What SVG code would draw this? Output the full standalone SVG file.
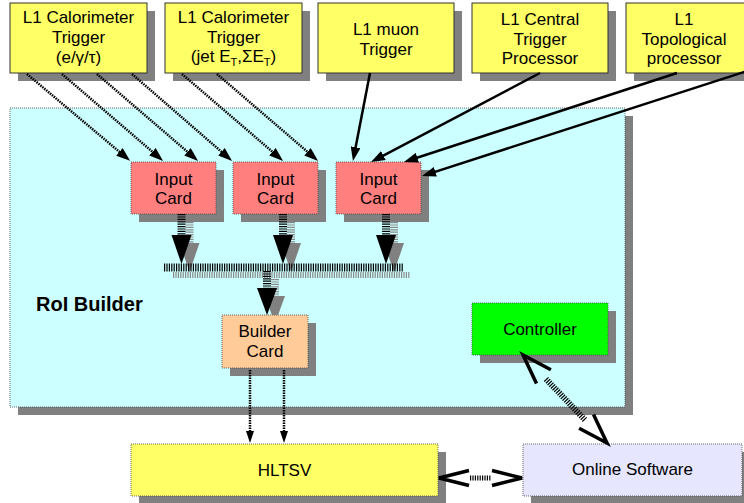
<svg xmlns="http://www.w3.org/2000/svg" width="744" height="503" viewBox="0 0 744 503">
<style>
.sh{fill:#808080}
.tb{fill:#ffff66;stroke:#333;stroke-width:1}
.bx{stroke:#444;stroke-width:0.8;stroke-dasharray:1 1}
.t{font-family:"Liberation Sans",Arial,sans-serif;font-size:17px;text-anchor:middle;fill:#000}
.dot{stroke:#000;stroke-width:2.5;stroke-dasharray:1.5 1;fill:none}
.sol{stroke:#000;stroke-width:2.5;fill:none}
.hat{stroke:#000;stroke-dasharray:1.2 1.2;fill:none}
.hats{stroke:#8a8a8a;stroke-dasharray:1.2 1.2;fill:none}
.v{stroke:#000;stroke-width:3.5;fill:none}
</style>
<defs>
<marker id="ah" markerUnits="userSpaceOnUse" markerWidth="14" markerHeight="10" refX="6" refY="5" orient="auto"><path d="M0,0 L14,5 L0,10 z" fill="#000"/></marker>
<marker id="as" markerUnits="userSpaceOnUse" markerWidth="12" markerHeight="8" refX="4" refY="4" orient="auto"><path d="M0,0 L12,4 L0,8 z" fill="#000"/></marker>
</defs>

<g id="roi-builder">
<rect class="sh" x="18" y="116" width="615" height="299"/>
<rect x="10" y="108" width="615" height="299" fill="#ccffff" class="bx"/>
<text x="36" y="311" font-family="Liberation Sans,Arial,sans-serif" font-size="20" font-weight="bold" fill="#000">RoI Builder</text>
</g>

<g id="l1calo-em">
<rect class="sh" x="18" y="11" width="137" height="70"/>
<rect class="tb" x="10" y="3" width="137" height="70"/>
<text class="t" x="78.5" y="23">L1 Calorimeter</text>
<text class="t" x="78.5" y="43">Trigger</text>
<text class="t" x="78.5" y="63">(e/γ/τ)</text>
</g>
<g id="l1calo-jet">
<rect class="sh" x="173" y="11" width="137" height="70"/>
<rect class="tb" x="165" y="3" width="137" height="70"/>
<text class="t" x="233.5" y="23">L1 Calorimeter</text>
<text class="t" x="233.5" y="43">Trigger</text>
<text class="t" x="233.5" y="62">(jet E<tspan font-size="11" dy="4">T</tspan><tspan dy="-4">,ΣE</tspan><tspan font-size="11" dy="4">T</tspan><tspan dy="-4">)</tspan></text>
</g>
<g id="l1muon">
<rect class="sh" x="326" y="11" width="136" height="70"/>
<rect class="tb" x="318" y="3" width="136" height="70"/>
<text class="t" x="386" y="35">L1 muon</text>
<text class="t" x="386" y="55">Trigger</text>
</g>
<g id="l1ctp">
<rect class="sh" x="480" y="11" width="136" height="70"/>
<rect class="tb" x="472" y="3" width="136" height="70"/>
<text class="t" x="540" y="25">L1 Central</text>
<text class="t" x="540" y="45">Trigger</text>
<text class="t" x="540" y="64">Processor</text>
</g>
<g id="l1topo">
<rect class="sh" x="634" y="11" width="136" height="70"/>
<rect class="tb" x="626" y="3" width="136" height="70"/>
<text class="t" x="684" y="25">L1</text>
<text class="t" x="684" y="45">Topological</text>
<text class="t" x="684" y="64">processor</text>
</g>

<g id="input-card-1">
<rect class="sh" x="139" y="170" width="85" height="52"/>
<rect class="bx" x="131" y="162" width="85" height="52" fill="#ff7f7f"/>
<text class="t" x="173.5" y="185">Input</text>
<text class="t" x="173.5" y="204">Card</text>
</g>
<g id="input-card-2">
<rect class="sh" x="241" y="170" width="85" height="52"/>
<rect class="bx" x="233" y="162" width="85" height="52" fill="#ff7f7f"/>
<text class="t" x="275.5" y="185">Input</text>
<text class="t" x="275.5" y="204">Card</text>
</g>
<g id="input-card-3">
<rect class="sh" x="344" y="170" width="85" height="52"/>
<rect class="bx" x="336" y="162" width="85" height="52" fill="#ff7f7f"/>
<text class="t" x="378.5" y="185">Input</text>
<text class="t" x="378.5" y="204">Card</text>
</g>
<g id="builder-card">
<rect class="sh" x="230" y="323" width="86" height="53"/>
<rect class="bx" x="222" y="315" width="86" height="53" fill="#ffcc99"/>
<text class="t" x="265" y="337">Builder</text>
<text class="t" x="265" y="357">Card</text>
</g>
<g id="controller">
<rect class="sh" x="480" y="311" width="136" height="52"/>
<rect class="bx" x="472" y="303" width="136" height="52" fill="#00ff00"/>
<text class="t" x="540" y="335">Controller</text>
</g>
<g id="hltsv">
<rect class="sh" x="139" y="452" width="307" height="52"/>
<rect class="bx" x="131" y="444" width="307" height="52" fill="#ffff66"/>
<text class="t" x="284.5" y="476">HLTSV</text>
</g>
<g id="online-software">
<rect class="sh" x="531" y="452" width="219" height="52"/>
<rect class="bx" x="523" y="444" width="219" height="52" fill="#e6e6ff"/>
<text class="t" x="632.5" y="475">Online Software</text>
</g>

<g id="connectors">
<!-- dotted from calorimeter triggers -->
<line class="dot" x1="27" y1="74" x2="124" y2="155.7" marker-end="url(#ah)"/>
<line class="dot" x1="62" y1="74" x2="157" y2="155.7" marker-end="url(#ah)"/>
<line class="dot" x1="97" y1="74" x2="192" y2="155.7" marker-end="url(#ah)"/>
<line class="dot" x1="132" y1="74" x2="226" y2="155.7" marker-end="url(#ah)"/>
<line class="dot" x1="182" y1="74" x2="277" y2="155.7" marker-end="url(#ah)"/>
<line class="dot" x1="217" y1="74" x2="312" y2="155.7" marker-end="url(#ah)"/>
<!-- solid -->
<line class="sol" x1="370" y1="73" x2="354.5" y2="153.1" marker-end="url(#ah)"/>
<line class="sol" x1="540" y1="73" x2="378.1" y2="158.3" marker-end="url(#ah)"/>
<line class="sol" x1="677" y1="73" x2="411.6" y2="159.5" marker-end="url(#ah)"/>
<line class="sol" x1="750" y1="70" x2="429.6" y2="173.6" marker-end="url(#ah)"/>

<!-- shadows of bus and big arrows -->
<line class="hats" x1="173" y1="275" x2="410" y2="275" stroke-width="6"/>
<line class="hats" x1="189.5" y1="222" x2="189.5" y2="245" stroke-width="8"/>
<line class="hats" x1="291" y1="222" x2="291" y2="245" stroke-width="8"/>
<line class="hats" x1="394" y1="222" x2="394" y2="245" stroke-width="8"/>
<line class="hats" x1="275" y1="279" x2="275" y2="296" stroke-width="8"/>
<path class="sh" d="M179.5,243 L199.5,243 L189.5,272 z"/>
<path class="sh" d="M281,243 L301,243 L291,272 z"/>
<path class="sh" d="M384,243 L404,243 L394,272 z"/>
<path class="sh" d="M265,296 L285,296 L278.1,315 L271.9,315 z"/>
<!-- bus -->
<line class="hat" x1="164" y1="267.5" x2="403" y2="267.5" stroke-width="8"/>
<!-- input card arrows -->
<line class="hat" x1="181.5" y1="214" x2="181.5" y2="237" stroke-width="8"/>
<path d="M171.5,235 L191.5,235 L181.5,264 z" fill="#000"/>
<line class="hat" x1="283" y1="214" x2="283" y2="237" stroke-width="8"/>
<path d="M273,235 L293,235 L283,264 z" fill="#000"/>
<line class="hat" x1="386" y1="214" x2="386" y2="237" stroke-width="8"/>
<path d="M376,235 L396,235 L386,264 z" fill="#000"/>
<!-- bus to builder -->
<line class="hat" x1="267" y1="271" x2="267" y2="290" stroke-width="8"/>
<path d="M257,288 L277,288 L267,315 z" fill="#000"/>
<!-- builder to HLTSV -->
<line class="dot" x1="250" y1="370" x2="250" y2="435" marker-end="url(#as)"/>
<line class="dot" x1="284" y1="370" x2="284" y2="435" marker-end="url(#as)"/>
<!-- controller - online software -->
<line class="hat" x1="546" y1="379" x2="585" y2="420" stroke-width="6"/>
<polyline class="v" points="550.9,369.8 523,355 536.5,383.6"/>
<polyline class="v" points="593.5,414.4 607,443 579.1,428.2"/>
<!-- HLTSV - online software -->
<line class="hat" x1="470" y1="478" x2="491" y2="478" stroke-width="5"/>
<polyline class="v" points="469,470.5 439,478 469,485.5"/>
<polyline class="v" points="492,470.5 522,478 492,485.5"/>
</g>
</svg>
